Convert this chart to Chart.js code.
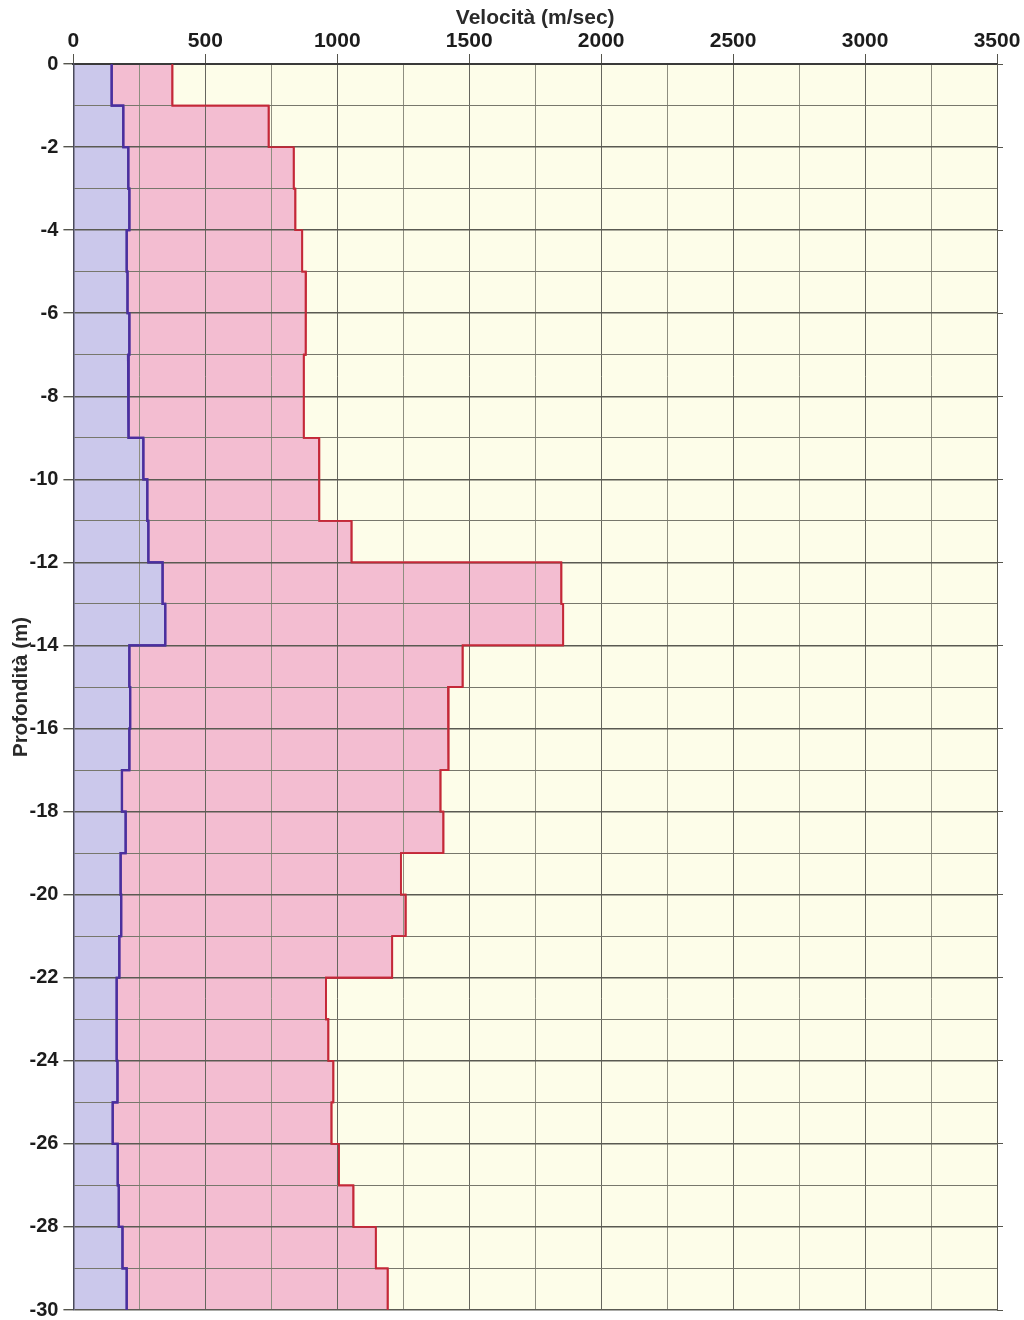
<!DOCTYPE html>
<html>
<head>
<meta charset="utf-8">
<title>Velocità - Profondità</title>
<script src="https://cdn.jsdelivr.net/npm/chart.js@4.4.1/dist/chart.umd.min.js"></script>
<style>
  html, body { margin: 0; padding: 0; background: #ffffff; }
  .wrap { position: relative; width: 1024px; height: 1320px; }
</style>
</head>
<body>
<div class="wrap"><canvas id="profile"></canvas></div>
<script>
// layer boundaries (m), one layer per metre
const layerTop = [0, -1, -2, -3, -4, -5, -6, -7, -8, -9, -10, -11, -12, -13, -14,
  -15, -16, -17, -18, -19, -20, -21, -22, -23, -24, -25, -26, -27, -28, -29];
const layerBottom = [-1, -2, -3, -4, -5, -6, -7, -8, -9, -10, -11, -12, -13, -14, -15,
  -16, -17, -18, -19, -20, -21, -22, -23, -24, -25, -26, -27, -28, -29, -30];

// P-wave velocity (m/sec), red profile
const vp = [375, 740, 835, 841, 867, 881, 880, 873, 873, 931, 932, 1054, 1849, 1856, 1475,
  1420, 1422, 1391, 1402, 1241, 1259, 1208, 957, 966, 985, 978, 1006, 1061, 1146, 1191];
// S-wave velocity (m/sec), blue profile
const vs = [145, 189, 208, 212, 202, 205, 212, 207, 210, 265, 280, 284, 338, 348, 212,
  215, 212, 184, 198, 179, 181, 174, 164, 164, 167, 149, 168, 172, 186, 202];

const xLabels = [0, 500, 1000, 1500, 2000, 2500, 3000, 3500];
const yLabels = [0, -2, -4, -6, -8, -10, -12, -14, -16, -18, -20, -22, -24, -26, -28, -30];

const FONT = "'Liberation Sans', Arial, sans-serif";

function stepProfile(values) {
  const pts = [];
  values.forEach((v, i) => {
    pts.push({ x: v, y: layerTop[i] });
    pts.push({ x: v, y: layerBottom[i] });
  });
  return pts;
}

// pale paper colour behind the plot
const areaBackground = {
  id: "areaBackground",
  beforeDraw(chart) {
    const { ctx, chartArea: a } = chart;
    ctx.save();
    ctx.fillStyle = "#fdfde9";
    ctx.fillRect(a.left, a.top, a.right - a.left, a.bottom - a.top);
    ctx.restore();
  },
};

// grid sits above the fills (z: 1), so stroke the profiles again on top of it
const linesOnTop = {
  id: "linesOnTop",
  afterDraw(chart) {
    for (let i = chart.data.datasets.length - 1; i >= 0; i--) {
      chart.getDatasetMeta(i).controller.draw();
    }
  },
};

const isXMajor = (v) => xLabels.includes(v);
const isYMajor = (v) => yLabels.includes(v);

new Chart(document.getElementById("profile"), {
  type: "line",
  data: {
    datasets: [
      {
        label: "Vs",
        data: stepProfile(vs),
        borderColor: "#4a2f9e",
        borderWidth: 2.2,
        backgroundColor: "#cbc8eb",
        fill: "origin",
        pointRadius: 0,
        tension: 0,
      },
      {
        label: "Vp",
        data: stepProfile(vp),
        borderColor: "#c42838",
        borderWidth: 1.8,
        backgroundColor: "#f3bdd1",
        fill: "origin",
        pointRadius: 0,
        tension: 0,
      },
    ],
  },
  options: {
    indexAxis: "y",
    responsive: true,
    maintainAspectRatio: false,
    animation: false,
    events: [],
    layout: { padding: { top: 0, left: 1, right: 21, bottom: 5 } },
    plugins: {
      legend: { display: false },
      tooltip: { enabled: false },
    },
    scales: {
      x: {
        type: "linear",
        position: "top",
        min: 0,
        max: 3500,
        ticks: {
          stepSize: 250,
          autoSkip: false,
          maxRotation: 0,
          padding: 2,
          color: "#1c1c1c",
          font: { family: FONT, size: 21, weight: "bold", lineHeight: 1 },
          callback: (v) => (isXMajor(v) ? String(v) : ""),
        },
        grid: {
          z: 1,
          tickLength: 10,
          color: (c) => (isXMajor(c.tick.value) ? "#66665e" : "#8e8e80"),
          tickColor: (c) => (isXMajor(c.tick.value) ? "#55554d" : "rgba(0,0,0,0)"),
          lineWidth: 1,
        },
        border: { color: "#3a3a3a", width: 2, z: 2 },
        title: {
          display: true,
          text: "Velocità (m/sec)",
          color: "#2a2a2a",
          font: { family: FONT, size: 21, weight: "bold", lineHeight: 1 },
          padding: { top: 8, bottom: 0 },
        },
      },
      y: {
        type: "linear",
        position: "left",
        min: -30,
        max: 0,
        ticks: {
          stepSize: 1,
          autoSkip: false,
          padding: 5,
          color: "#1c1c1c",
          font: { family: FONT, size: 20, weight: "bold", lineHeight: 0.5 },
          callback: (v) => (isYMajor(v) ? String(v) : ""),
        },
        grid: {
          z: 1,
          tickLength: 10,
          color: (c) => (isYMajor(c.tick.value) ? "#5a5a52" : "#77776c"),
          tickColor: (c) => (isYMajor(c.tick.value) ? "#55554d" : "rgba(0,0,0,0)"),
          lineWidth: (c) => (isYMajor(c.tick.value) ? 1.4 : 1),
        },
        border: { color: "#4a4a5a", width: 1.5, z: 2 },
        title: {
          display: true,
          text: "Profondità (m)",
          color: "#2a2a2a",
          font: { family: FONT, size: 20.5, weight: "bold", lineHeight: 1 },
          padding: { top: 10, bottom: -7 },
        },
      },
      yRight: {
        type: "linear",
        position: "right",
        min: -30,
        max: 0,
        ticks: { stepSize: 1, display: false },
        grid: {
          drawOnChartArea: false,
          tickLength: 6,
          tickColor: (c) => (isYMajor(c.tick.value) ? "#55554d" : "rgba(0,0,0,0)"),
        },
        border: { color: "#5a5a52", width: 1, z: 2 },
      },
    },
  },
  plugins: [areaBackground, linesOnTop],
});
</script>
</body>
</html>
